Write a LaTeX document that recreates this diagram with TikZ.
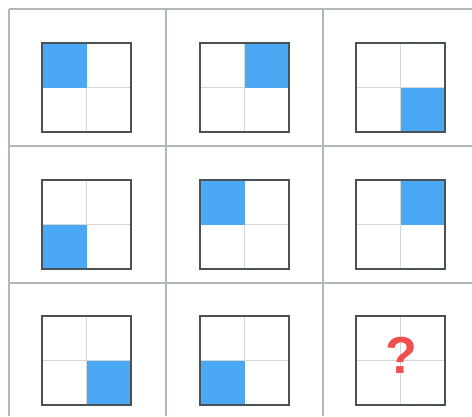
\documentclass[tikz,border=0pt]{standalone}
\usepackage{fontspec}
\setmainfont{Liberation Sans}
\definecolor{gridc}{HTML}{B0B8BC}
\definecolor{boxc}{HTML}{4B5257}
\definecolor{divc}{HTML}{D3D7DA}
\definecolor{bluec}{HTML}{4AA8F5}
\definecolor{qc}{HTML}{F24E4E}
\begin{document}
\begin{tikzpicture}[x=1pt,y=-1pt,
  gridline/.style={draw=gridc,line width=2pt},
  boxline/.style={draw=boxc,line width=2pt},
  divline/.style={draw=divc,line width=1.5pt},
  bluefill/.style={fill=bluec}]
\useasboundingbox (0,0) rectangle (472,416);
\fill[white] (0,0) rectangle (472,416);
% grid
\foreach \x in {9,166,323} \draw[gridline] (\x,9) -- (\x,416);
\foreach \y in {9,146,283} \draw[gridline] (9,\y) -- (472,\y);
% cells: left x, top y, quadrant (1=TL,2=TR,3=BL,4=BR,0=none)
\foreach \lx/\ty/\q in {42/43/1,200/43/2,356/43/4,
                        42/180/3,200/180/1,356/180/2,
                        42/316/4,200/316/3,356/316/0}{
  \draw[divline] (\lx+44.5,\ty) -- (\lx+44.5,\ty+89);
  \draw[divline] (\lx,\ty+44.5) -- (\lx+89,\ty+44.5);
  \ifnum\q=1 \fill[bluefill] (\lx,\ty) rectangle ++(44.5,44.5);\fi
  \ifnum\q=2 \fill[bluefill] (\lx+44.5,\ty) rectangle ++(44.5,44.5);\fi
  \ifnum\q=3 \fill[bluefill] (\lx,\ty+44.5) rectangle ++(44.5,44.5);\fi
  \ifnum\q=4 \fill[bluefill] (\lx+44.5,\ty+44.5) rectangle ++(44.5,44.5);\fi
  \draw[boxline] (\lx,\ty) rectangle ++(89,89);
}
\node[text=qc,font=\fontsize{52}{52}\selectfont\bfseries,inner sep=0pt] (q) at (401,355.5) {?};
\end{tikzpicture}
\end{document}
